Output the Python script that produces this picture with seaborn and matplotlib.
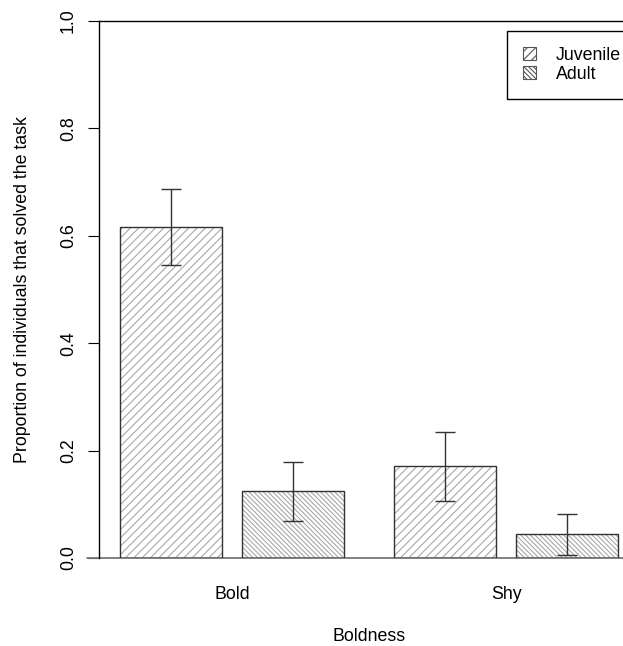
import matplotlib
matplotlib.use("Agg")
import matplotlib.pyplot as plt
from matplotlib.patches import Patch, Rectangle
import seaborn as sns
import pandas as pd
import numpy as np

# Data
categories = ["Bold", "Shy"]
ages = ["Juvenile", "Adult"]
juvenile = [0.617, 0.171]
adult = [0.1245, 0.044]
juvenile_lo = [0.546, 0.106]
juvenile_hi = [0.687, 0.235]
adult_lo = [0.069, 0.005]
adult_hi = [0.178, 0.082]
y_ticks = [0.0, 0.2, 0.4, 0.6, 0.8, 1.0]

hatches = {"Juvenile": "////", "Adult": "\\" * 7}
FS = 12.8

sns.set_style("ticks")
plt.rcParams["font.family"] = ["Liberation Sans", "DejaVu Sans"]
plt.rcParams["font.size"] = FS
plt.rcParams["hatch.linewidth"] = 0.8
for k in ["text.color", "axes.labelcolor", "xtick.color", "ytick.color"]:
    plt.rcParams[k] = "black"

df = pd.DataFrame({
    "Boldness": categories * 2,
    "Age": [ages[0]] * 2 + [ages[1]] * 2,
    "Proportion": juvenile + adult,
})
err = {"Juvenile": (juvenile_lo, juvenile_hi), "Adult": (adult_lo, adult_hi)}

fig = plt.figure(figsize=(6.23, 6.46), dpi=100)
ax = fig.add_axes([0.159, 0.1362, 0.867, 0.8313])

sns.barplot(data=df, x="Boldness", y="Proportion", hue="Age", order=categories,
            hue_order=ages, width=0.887, gap=0.16, errorbar=None,
            palette={"Juvenile": "white", "Adult": "white"}, edgecolor="#a8a8a8",
            linewidth=0, legend=False, ax=ax)

for cont, age in zip(ax.containers, ages):
    lo, hi = err[age]
    vals = df[df["Age"] == age].set_index("Boldness").loc[categories, "Proportion"].values
    xs = []
    for bar in cont:
        bar.set_hatch(hatches[age])
        bar.set_edgecolor("#a8a8a8")
        ax.add_patch(Rectangle(bar.get_xy(), bar.get_width(), bar.get_height(),
                               fill=False, edgecolor="#333333", linewidth=1.0, zorder=3))
        xs.append(bar.get_x() + bar.get_width() / 2)
    yerr = np.array([vals - np.array(lo), np.array(hi) - vals])
    ax.errorbar(xs, vals, yerr=yerr, fmt="none", ecolor="#333333", elinewidth=1.0,
                capsize=7, capthick=1.0, zorder=4)

ax.set_xlim(-0.485, 1.485)
ax.set_ylim(0, 1.0)
ax.set_yticks(y_ticks)
ax.set_yticklabels([f"{t:.1f}" for t in y_ticks], rotation=90, va="center")
ax.tick_params(axis="y", length=8, width=0.8, pad=8, colors="black", labelsize=FS)
ax.tick_params(axis="x", length=0, pad=20, labelsize=FS)

for s in ["right", "bottom"]:
    ax.spines[s].set_visible(False)
ax.spines["left"].set_color("black")
ax.spines["top"].set_color("black")
ax.spines["left"].set_linewidth(1.0)
ax.spines["top"].set_linewidth(1.0)

# gray baseline at zero
ax.plot([-0.53, 1.6], [0, 0], color="#777777", linewidth=1.3, clip_on=False, zorder=2)

ax.set_xlabel("Boldness", fontsize=FS, labelpad=18)
ax.set_ylabel("Proportion of individuals that solved the task", fontsize=FS, labelpad=21)

handles = [Patch(facecolor="white", edgecolor="#555555", hatch=hatches[a], linewidth=0.8) for a in ages]
leg = ax.legend(handles, ages, loc="upper left", bbox_to_anchor=(507 / 623, 1 - 31 / 646),
                bbox_transform=fig.transFigure, fancybox=False, edgecolor="black",
                framealpha=1, handlelength=0.75, handleheight=0.75, handletextpad=1.1,
                borderpad=0.9, labelspacing=0.1, borderaxespad=0, fontsize=FS)
leg.get_frame().set_linewidth(1.0)

fig.savefig("out.png", dpi=100)
